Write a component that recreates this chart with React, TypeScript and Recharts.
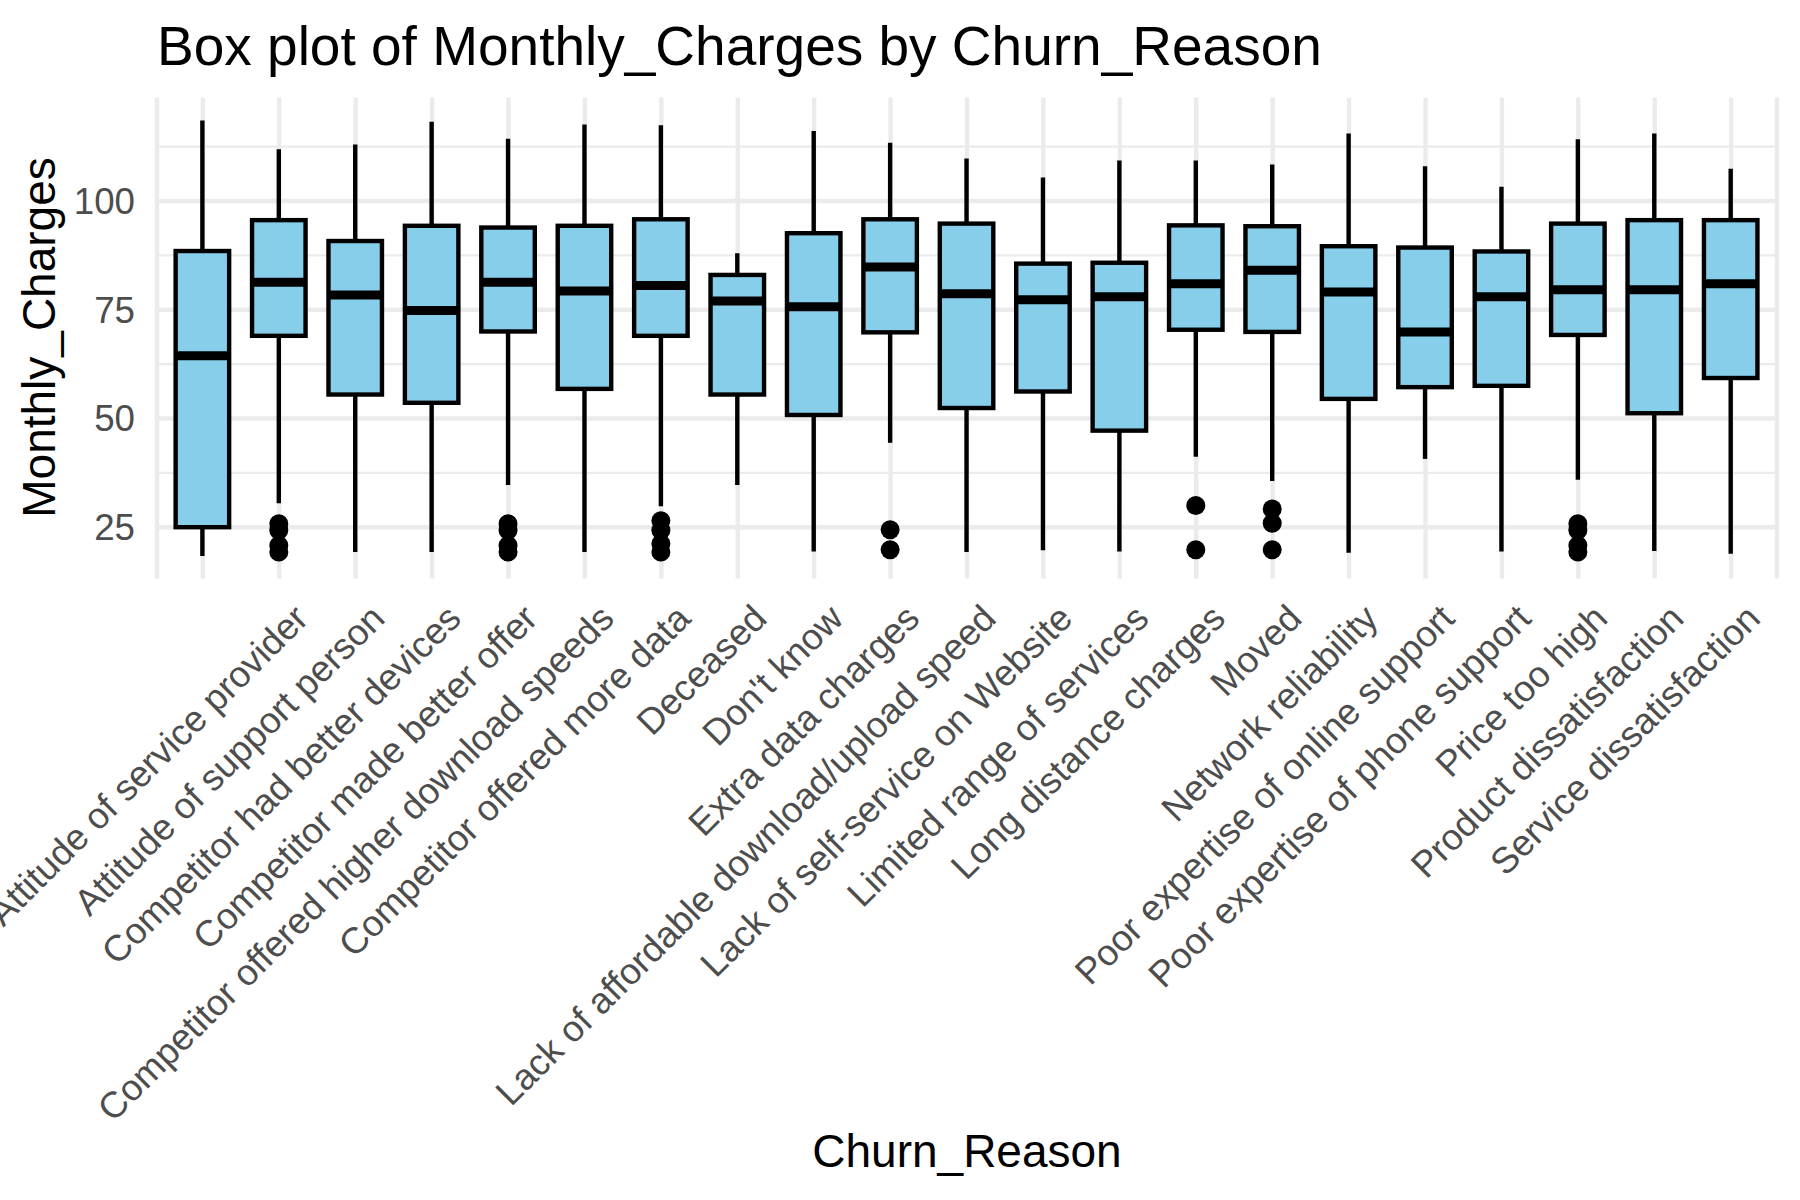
import React from "react";
import { ComposedChart, Bar, XAxis, YAxis, CartesianGrid } from "recharts";

const FONT = "'Liberation Sans', Arial, Helvetica, sans-serif";

// categories in plot order (first one is the blank reason of customers who stayed)
const REASONS = [
  "",
  "Attitude of service provider",
  "Attitude of support person",
  "Competitor had better devices",
  "Competitor made better offer",
  "Competitor offered higher download speeds",
  "Competitor offered more data",
  "Deceased",
  "Don't know",
  "Extra data charges",
  "Lack of affordable download/upload speed",
  "Lack of self-service on Website",
  "Limited range of services",
  "Long distance charges",
  "Moved",
  "Network reliability",
  "Poor expertise of online support",
  "Poor expertise of phone support",
  "Price too high",
  "Product dissatisfaction",
  "Service dissatisfaction",
];

const WHISKER_LO = [18.4, 30.5, 19.3, 19.3, 34.7, 19.3, 29.8, 34.7, 19.4, 44.4, 19.3, 19.7, 19.4, 41.2, 35.6, 19.1, 40.7, 19.4, 35.9, 19.5, 18.9];
const Q1 = [25.0, 69.0, 55.5, 53.6, 70.0, 56.8, 69.0, 55.5, 50.8, 69.8, 52.4, 56.2, 47.2, 70.4, 69.9, 54.5, 57.2, 57.5, 69.2, 51.2, 59.3];
const MEDIAN = [64.4, 81.3, 78.4, 74.8, 81.3, 79.3, 80.6, 77.0, 75.7, 84.8, 78.7, 77.3, 78.0, 81.0, 84.1, 79.1, 69.9, 78.0, 79.6, 79.6, 81.0];
const Q3 = [88.5, 95.6, 90.8, 94.3, 93.9, 94.3, 95.8, 83.0, 92.6, 95.8, 94.8, 85.6, 85.8, 94.4, 94.2, 89.6, 89.3, 88.4, 94.8, 95.6, 95.6];
const WHISKER_HI = [118.5, 111.9, 113.0, 118.2, 114.3, 117.6, 117.4, 88.0, 116.1, 113.4, 109.8, 105.4, 109.3, 109.3, 108.4, 115.5, 108.0, 103.3, 114.2, 115.5, 107.4];
const OUTLIERS: number[][] = [
  [],
  [25.8, 24.3, 20.8, 19.3],
  [],
  [],
  [25.8, 24.3, 20.8, 19.3],
  [],
  [26.5, 24.3, 21.2, 19.3],
  [],
  [],
  [24.4, 19.8],
  [],
  [],
  [],
  [30.0, 19.8],
  [29.2, 25.9, 19.8],
  [],
  [],
  [],
  [25.8, 24.3, 20.8, 19.3],
  [],
  [],
];

const MAJOR_TICKS = [25, 50, 75, 100];
const MINOR_TICKS = [37.5, 62.5, 87.5, 112.5];

const rows = REASONS.map((reason, i) => ({
  reason,
  lo: WHISKER_LO[i],
  q1: Q1[i],
  median: MEDIAN[i],
  q3: Q3[i],
  hi: WHISKER_HI[i],
  outliers: OUTLIERS[i],
  span: [Math.min(WHISKER_LO[i], ...OUTLIERS[i]), WHISKER_HI[i]],
}));

// draws one whole box (whiskers, box, median, outliers) inside the bar's range
function BoxShape(props: any) {
  const { x, y, width, height, payload } = props;
  const [bottom, top] = payload.span;
  const k = height / (top - bottom);
  const py = (v: number) => y + (top - v) * k;
  const cx = x + width / 2;
  return (
    <g>
      <line x1={cx} x2={cx} y1={py(payload.hi)} y2={py(payload.q3)} stroke="#000" strokeWidth={4.4} />
      <line x1={cx} x2={cx} y1={py(payload.q1)} y2={py(payload.lo)} stroke="#000" strokeWidth={4.4} />
      <rect
        x={x}
        y={py(payload.q3)}
        width={width}
        height={py(payload.q1) - py(payload.q3)}
        fill="#87CEEB"
        stroke="#000"
        strokeWidth={4.4}
      />
      <line x1={x} x2={x + width} y1={py(payload.median)} y2={py(payload.median)} stroke="#000" strokeWidth={9} />
      {payload.outliers.map((v: number, j: number) => (
        <circle key={j} cx={cx} cy={py(v)} r={9.5} fill="#000" />
      ))}
    </g>
  );
}

function ReasonTick(props: any) {
  const { x, y, payload } = props;
  const tx = x + 31;
  const ty = y + 42;
  return (
    <text
      x={tx}
      y={ty}
      textAnchor="end"
      transform={`rotate(-45, ${tx}, ${ty})`}
      fill="#4D4D4D"
      fontSize={36.7}
      fontFamily={FONT}
    >
      {payload.value}
    </text>
  );
}

export default function App() {
  return (
    <div style={{ position: "absolute", left: 0, top: 0, width: 1800, height: 1200, background: "#fff" }}>
      <ComposedChart
        width={1800}
        height={1200}
        data={rows}
        margin={{ top: 97.5, right: 23, bottom: 121.5, left: 57 }}
        barCategoryGap={0}
      >
        <CartesianGrid horizontalValues={MINOR_TICKS} vertical={false} stroke="#EBEBEB" strokeWidth={2.2} />
        <CartesianGrid horizontalValues={MAJOR_TICKS} stroke="#EBEBEB" strokeWidth={4.4} />
        <XAxis
          dataKey="reason"
          interval={0}
          padding={{ left: 7.64, right: 7.64 }}
          axisLine={false}
          tickLine={false}
          tickSize={0}
          tickMargin={0}
          height={500}
          tick={<ReasonTick />}
        />
        <YAxis
          type="number"
          domain={[13.2, 123.8]}
          ticks={MAJOR_TICKS}
          allowDataOverflow
          axisLine={false}
          tickLine={false}
          tickSize={0}
          tickMargin={22}
          width={100}
          tick={{ fill: "#4D4D4D", fontSize: 36.7, fontFamily: FONT }}
        />
        <Bar dataKey="span" barSize={53.5} shape={BoxShape} isAnimationActive={false} />
      </ComposedChart>
      <svg
        width={1800}
        height={1200}
        style={{ position: "absolute", left: 0, top: 0, pointerEvents: "none" }}
      >
        <text x={157} y={65} fontSize={55} fontFamily={FONT} fill="#000">
          Box plot of Monthly_Charges by Churn_Reason
        </text>
        <text
          x={55}
          y={337.5}
          fontSize={46}
          fontFamily={FONT}
          fill="#000"
          textAnchor="middle"
          transform="rotate(-90, 55, 337.5)"
        >
          Monthly_Charges
        </text>
        <text x={967} y={1167} fontSize={46} fontFamily={FONT} fill="#000" textAnchor="middle">
          Churn_Reason
        </text>
      </svg>
    </div>
  );
}
